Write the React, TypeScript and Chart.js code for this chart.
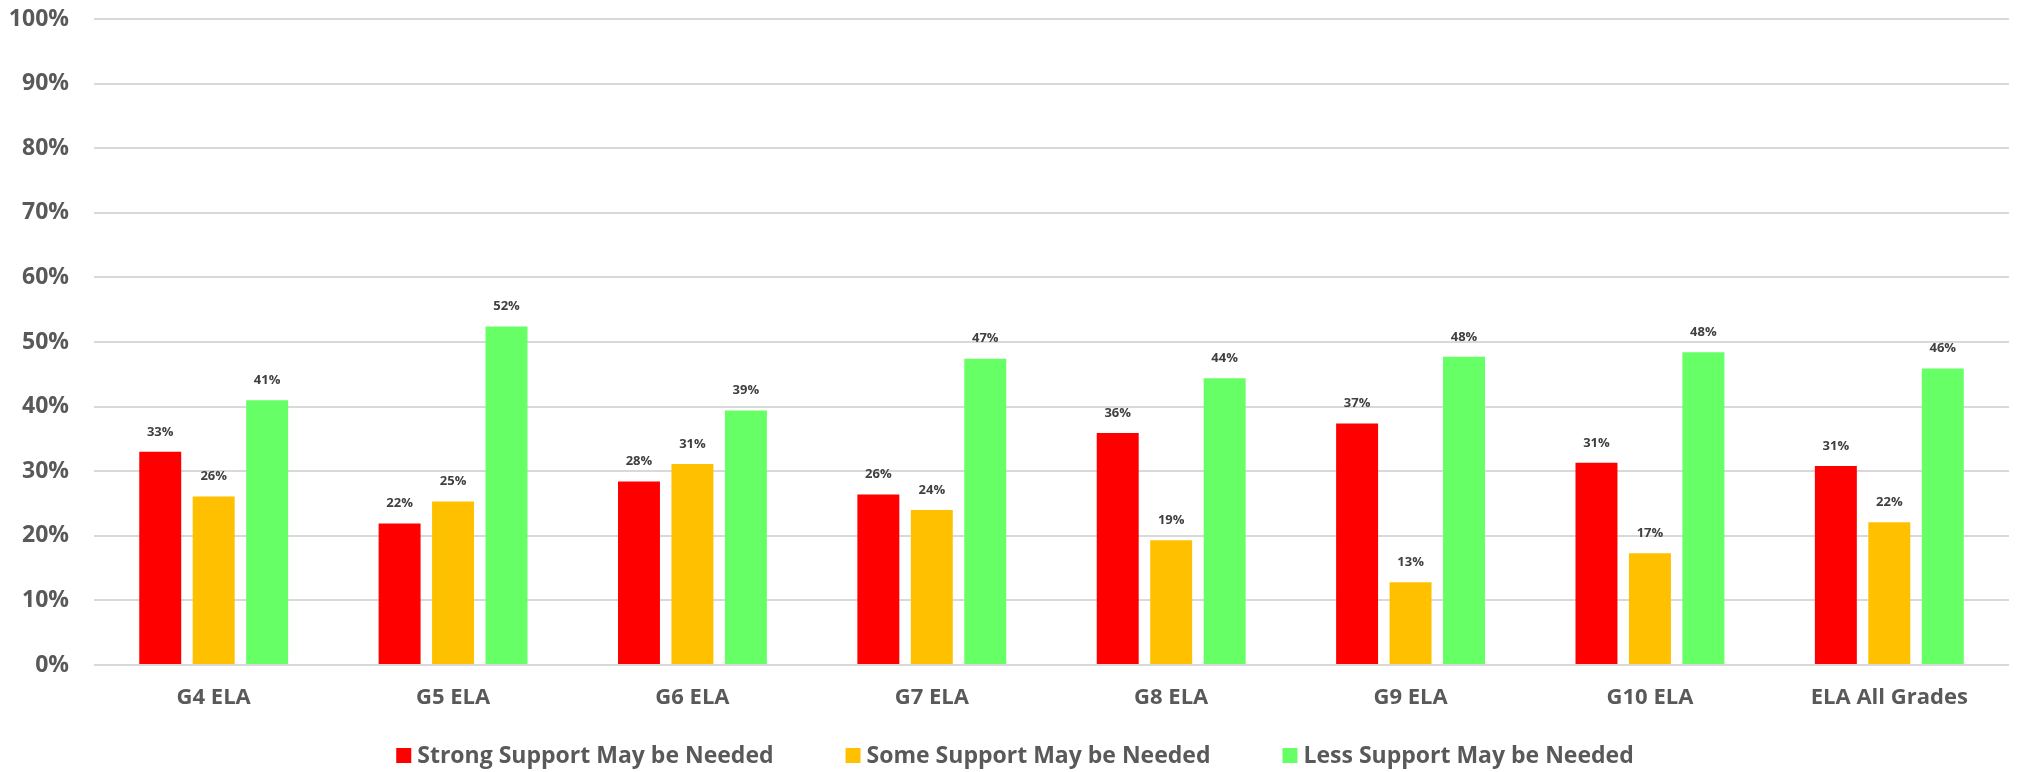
import React, { useEffect, useRef } from "react";
import { Chart, registerables } from "chart.js";

Chart.register(...registerables);

const categories = ["G4 ELA", "G5 ELA", "G6 ELA", "G7 ELA", "G8 ELA", "G9 ELA", "G10 ELA", "ELA All Grades"];
const strongSupport = [33.0, 21.9, 28.4, 26.4, 35.9, 37.4, 31.3, 30.8];
const someSupport = [26.1, 25.3, 31.1, 24.0, 19.3, 12.8, 17.3, 22.1];
const lessSupport = [41.0, 52.4, 39.4, 47.4, 44.4, 47.7, 48.4, 45.9];
const yTicks = [0, 10, 20, 30, 40, 50, 60, 70, 80, 90, 100];
const seriesNames = ["Strong Support May be Needed", "Some Support May be Needed", "Less Support May be Needed"];
const seriesColors = ["#FF0000", "#FFC000", "#66FF66"];

const FONT = "'Open Sans', Lato, sans-serif";

const dataLabelPlugin = {
  id: "dataLabels",
  afterDatasetsDraw(chart: any) {
    const ctx = chart.ctx;
    ctx.save();
    ctx.font = `bold 13px ${FONT}`;
    ctx.fillStyle = "#404040";
    ctx.textAlign = "center";
    ctx.textBaseline = "middle";
    chart.data.datasets.forEach((ds: any, i: number) => {
      const meta = chart.getDatasetMeta(i);
      meta.data.forEach((bar: any, j: number) => {
        const v = ds.data[j];
        ctx.fillText(`${Math.round(v)}%`, bar.x, bar.y - 20);
      });
    });
    ctx.restore();
  },
};

const legendPlugin = {
  id: "customLegend",
  afterDraw(chart: any) {
    const ctx = chart.ctx;
    ctx.save();
    ctx.font = `bold 23px ${FONT}`;
    const box = 15;
    const gap = 6;
    const spacing = 72;
    const widths = chart.data.datasets.map((ds: any) => box + gap + ctx.measureText(ds.label).width);
    const total = widths.reduce((a: number, b: number) => a + b, 0) + spacing * (widths.length - 1);
    let x = (chart.width - total) / 2 + 2;
    const cy = 755.5;
    ctx.textBaseline = "middle";
    ctx.textAlign = "left";
    chart.data.datasets.forEach((ds: any, i: number) => {
      ctx.fillStyle = ds.backgroundColor;
      ctx.fillRect(x, cy - box / 2, box, box);
      ctx.fillStyle = "#595959";
      ctx.fillText(ds.label, x + box + gap, cy + 1);
      x += widths[i] + spacing;
    });
    ctx.restore();
  },
};

export default function App() {
  const ref = useRef<HTMLCanvasElement>(null);
  useEffect(() => {
    if (!ref.current) return;
    const values = [strongSupport, someSupport, lessSupport];
    const chart = new Chart(ref.current, {
      type: "bar",
      data: {
        labels: categories,
        datasets: seriesNames.map((name, i) => ({
          label: name,
          data: values[i],
          backgroundColor: seriesColors[i],
          borderWidth: 0,
          categoryPercentage: 0.67,
          barPercentage: 0.785,
        })),
      },
      options: {
        responsive: false,
        animation: false,
        layout: { padding: { top: 19, right: 17, left: 0, bottom: 0 } },
        plugins: {
          tooltip: { enabled: false },
          legend: { display: false },
        },
        scales: {
          x: {
            grid: { display: false, drawTicks: false },
            border: { display: false },
            ticks: {
              color: "#595959",
              font: { family: FONT, size: 22, weight: "bold" },
              padding: 20,
              maxRotation: 0,
              autoSkip: false,
            },
            afterFit(scale: any) {
              scale.height = 107;
              scale.paddingLeft = 0;
              scale.paddingRight = 0;
            },
          },
          y: {
            min: 0,
            max: 100,
            afterBuildTicks(scale: any) {
              scale.ticks = yTicks.map((v) => ({ value: v }));
            },
            grid: { color: "#d9d9d9", lineWidth: 2, drawTicks: false },
            border: { display: false },
            ticks: {
              color: "#595959",
              font: { family: FONT, size: 23, weight: "bold" },
              padding: 25,
              callback: (v: any) => `${v}%`,
            },
            afterFit(scale: any) {
              scale.width = 94;
              scale.paddingTop = 0;
              scale.paddingBottom = 0;
            },
          },
        },
      },
      plugins: [dataLabelPlugin, legendPlugin],
    } as any);
    return () => chart.destroy();
  }, []);
  return (
    <div style={{ position: "fixed", left: 0, top: 0, width: 2026, height: 772, background: "#fff" }}>
      <canvas ref={ref} width={2026} height={772} />
    </div>
  );
}
